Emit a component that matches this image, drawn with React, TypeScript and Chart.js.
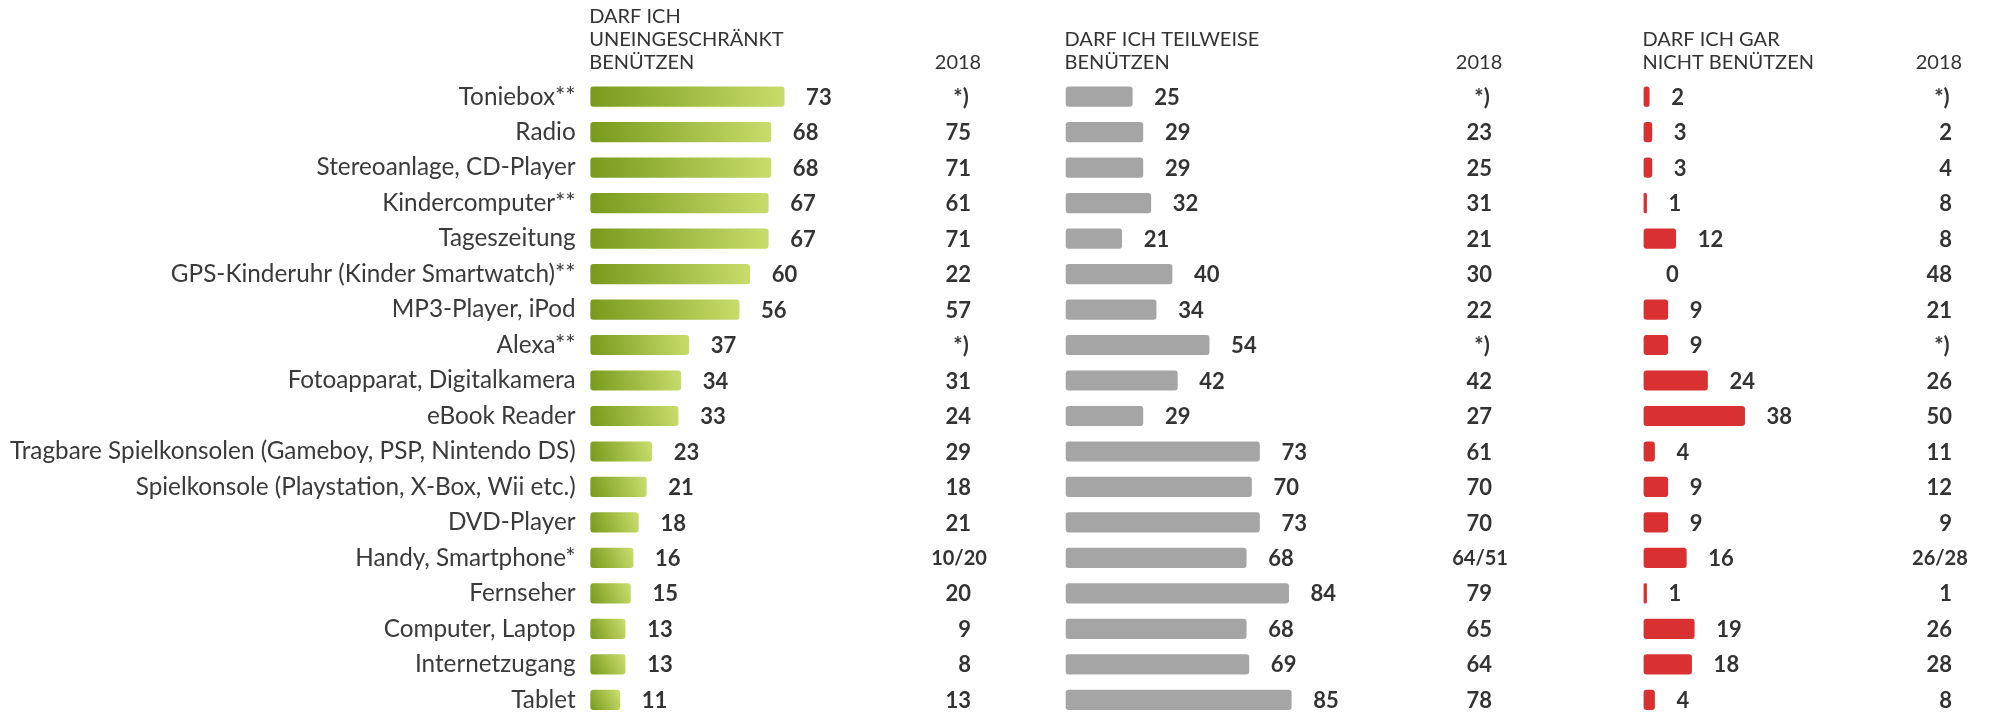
import React, { useEffect, useRef } from "react";
import { Chart, registerables } from "chart.js";

Chart.register(...registerables);

const categories = [
  "Toniebox**",
  "Radio",
  "Stereoanlage, CD-Player",
  "Kindercomputer**",
  "Tageszeitung",
  "GPS-Kinderuhr (Kinder Smartwatch)**",
  "MP3-Player, iPod",
  "Alexa**",
  "Fotoapparat, Digitalkamera",
  "eBook Reader",
  "Tragbare Spielkonsolen (Gameboy, PSP, Nintendo DS)",
  "Spielkonsole (Playstation, X-Box, Wii etc.)",
  "DVD-Player",
  "Handy, Smartphone*",
  "Fernseher",
  "Computer, Laptop",
  "Internetzugang",
  "Tablet",
];

const unrestricted = [73, 68, 68, 67, 67, 60, 56, 37, 34, 33, 23, 21, 18, 16, 15, 13, 13, 11];
const unrestricted2018 = ["*)", "75", "71", "61", "71", "22", "57", "*)", "31", "24", "29", "18", "21", "10/20", "20", "9", "8", "13"];

const partial = [25, 29, 29, 32, 21, 40, 34, 54, 42, 29, 73, 70, 73, 68, 84, 68, 69, 85];
const partial2018 = ["*)", "23", "25", "31", "21", "30", "22", "*)", "42", "27", "61", "70", "70", "64/51", "79", "65", "64", "78"];

const forbidden = [2, 3, 3, 1, 12, 0, 9, 9, 24, 38, 4, 9, 9, 16, 1, 19, 18, 4];
const forbidden2018 = ["*)", "2", "4", "8", "8", "48", "21", "*)", "26", "50", "11", "12", "9", "26/28", "1", "26", "28", "8"];

const headers = [
  ["DARF ICH", "UNEINGESCHRÄNKT", "BENÜTZEN"],
  ["DARF ICH TEILWEISE", "BENÜTZEN"],
  ["DARF ICH GAR", "NICHT BENÜTZEN"],
];
const yearLabel = "2018";

const FONT = "Lato, 'Noto Sans', sans-serif";
const TEXT = "#333333";

const panelValues = [unrestricted, partial, forbidden];
const panelPrev = [unrestricted2018, partial2018, forbidden2018];
const panelMax = [179.4, 218.1, 132.5];
const colRightOffset = [380.3, 426, 308];
const headerLineY = [17, 40, 63];

const labelPlugin = {
  id: "panelLabels",
  afterDatasetsDraw(chart: any) {
    const ctx = chart.ctx as CanvasRenderingContext2D;
    const ys = chart.scales.y;
    ctx.save();
    ctx.fillStyle = TEXT;
    ctx.textBaseline = "middle";
    panelValues.forEach((vals, pi) => {
      const xs = chart.scales["x" + (pi + 1)];
      const colRight = xs.left + colRightOffset[pi];
      // headers
      ctx.font = `20px ${FONT}`;
      ctx.textAlign = "left";
      const lines = headers[pi];
      lines.forEach((l, li) => {
        ctx.fillText(l, xs.left - 1.5, headerLineY[3 - lines.length + li]);
      });
      ctx.textAlign = "center";
      ctx.fillText(yearLabel, colRight - 13, headerLineY[2]);
      // values
      vals.forEach((v, i) => {
        const y = ys.getPixelForValue(i) + 1;
        ctx.font = `bold 22px ${FONT}`;
        ctx.textAlign = "left";
        ctx.fillText(String(v), xs.getPixelForValue(v) + 22, y);
        const t = panelPrev[pi][i];
        if (/^\d{1,2}$/.test(t)) {
          ctx.textAlign = "right";
          ctx.fillText(t, colRight, y);
        } else if (t.includes("/")) {
          ctx.font = `bold 20px ${FONT}`;
          ctx.textAlign = "center";
          ctx.fillText(t, colRight - 12, y);
        } else {
          ctx.textAlign = "center";
          ctx.fillText(t, colRight - 10, y);
        }
      });
    });
    ctx.restore();
  },
};

function greenFill(c: any) {
  const chart = c.chart;
  const xs = chart.scales?.x1;
  const ys = chart.scales?.y;
  if (!xs || !ys || c.type !== "data" || !chart.chartArea) return "#a0bc3c";
  const v = c.raw as number;
  const x0 = xs.getPixelForValue(0);
  const x1 = xs.getPixelForValue(v);
  const yc = ys.getPixelForValue(c.dataIndex);
  const g = chart.ctx.createLinearGradient(x0, yc + 10, x1, yc - 6);
  g.addColorStop(0, "#789a1c");
  g.addColorStop(1, "#c8dc6b");
  return g;
}

function solid(color: string) {
  return (c: any) => (c.type === "data" && c.raw === 0 ? "rgba(0,0,0,0)" : color);
}

function xAxis(i: number) {
  return {
    type: "linear" as const,
    position: "bottom" as const,
    stack: "panels",
    stackWeight: panelMax[i],
    min: 0,
    max: panelMax[i],
    display: true,
    grid: { display: false, drawTicks: false },
    border: { display: false },
    ticks: { display: false },
    afterFit: (s: any) => {
      s.height = 0;
    },
  };
}

export default function App() {
  const ref = useRef<HTMLCanvasElement>(null);
  useEffect(() => {
    if (!ref.current) return;
    const common = {
      grouped: false,
      barThickness: 19.5,
      borderRadius: 3,
      borderSkipped: false,
      clip: false as any,
    };
    const chart = new Chart(ref.current, {
      type: "bar",
      data: {
        labels: categories,
        datasets: [
          { ...common, data: unrestricted, xAxisID: "x1", backgroundColor: greenFill },
          { ...common, data: partial, xAxisID: "x2", backgroundColor: solid("#a5a5a5") },
          { ...common, data: forbidden, xAxisID: "x3", backgroundColor: solid("#d93131") },
        ] as any,
      },
      options: {
        indexAxis: "y",
        animation: false,
        responsive: false,
        maintainAspectRatio: false,
        layout: { padding: { top: 96.7, bottom: 713 - 699.8, left: 0, right: 0 } },
        plugins: { legend: { display: false }, tooltip: { enabled: false } },
        scales: {
          y: {
            type: "category",
            offset: false,
            grid: { display: false, drawTicks: false },
            border: { display: false },
            ticks: {
              autoSkip: false,
              padding: 15,
              color: "#3a3a3a",
              font: { family: FONT, size: 24.3 },
            },
            afterFit: (s: any) => {
              s.width = 590.7;
              s.paddingTop = 0;
              s.paddingBottom = 0;
            },
          },
          x1: xAxis(0),
          x2: xAxis(1),
          x3: xAxis(2),
        } as any,
      },
      plugins: [labelPlugin],
    });
    return () => chart.destroy();
  }, []);
  return (
    <div style={{ position: "absolute", left: 0, top: 0, width: 1995, height: 713, background: "#fff" }}>
      <canvas ref={ref} width={1995} height={713} style={{ display: "block" }} />
    </div>
  );
}
